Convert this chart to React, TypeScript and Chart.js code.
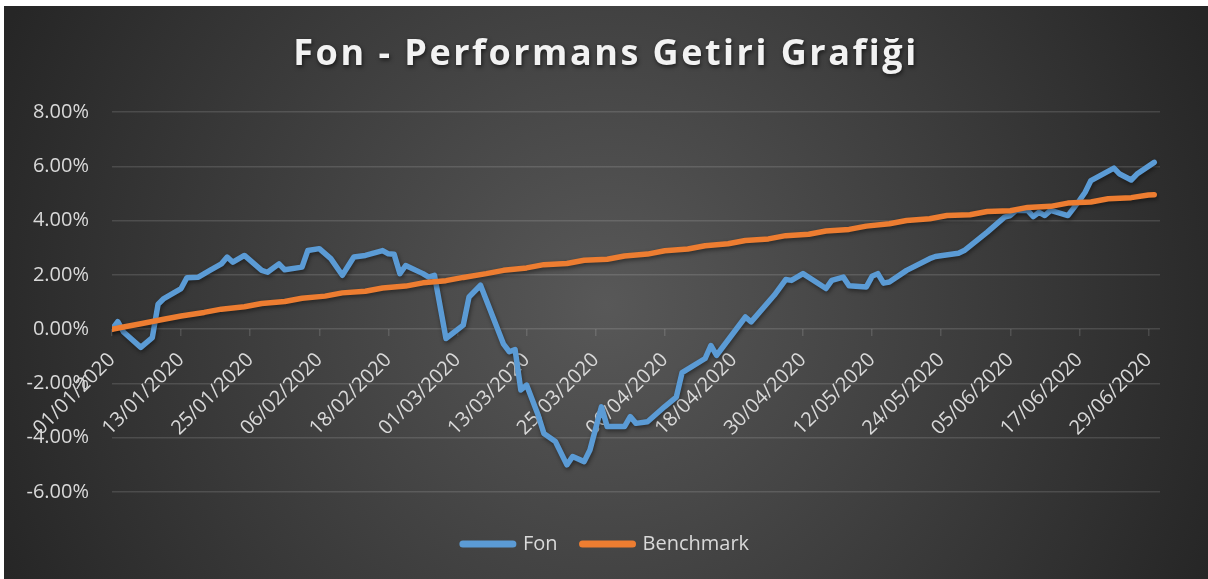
import React, { useEffect, useRef } from 'react';
import { Chart, registerables } from 'chart.js';

Chart.register(...registerables);

const chartTitle = 'Fon - Performans Getiri Grafiği';
const seriesNames = ['Fon', 'Benchmark'];
const seriesColors = ['#5B9BD5', '#ED7D31'];

// x axis: day index from 01/01/2020
const xTickDays = [0, 12, 24, 36, 48, 60, 72, 84, 96, 108, 120, 132, 144, 156, 168, 180];
const xTickLabels = [
  '01/01/2020', '13/01/2020', '25/01/2020', '06/02/2020', '18/02/2020', '01/03/2020',
  '13/03/2020', '25/03/2020', '06/04/2020', '18/04/2020', '30/04/2020', '12/05/2020',
  '24/05/2020', '05/06/2020', '17/06/2020', '29/06/2020',
];
const yMin = -6;
const yMax = 8;
const yStep = 2;

// Fon (percent)
const fonDays = [
  0, 1, 2, 5, 7, 8, 9, 12, 13, 15, 17, 19, 20, 21, 23, 26, 27, 29, 30, 33,
  34, 36, 38, 40, 42, 44, 47, 48, 49, 50, 51, 54, 55, 56, 58, 61, 62, 64, 68, 69,
  70, 71, 72, 74, 75, 77, 79, 80, 82, 83, 85, 86, 89, 90, 91, 93, 96, 98, 99, 103,
  104, 105, 110, 111, 115, 117, 118, 120, 124, 125, 127, 128, 131, 132, 133, 134, 135, 138, 142, 143,
  147, 148, 152, 155, 156, 157, 159, 160, 161, 162, 163, 166, 168, 169, 170, 174, 175, 177, 178, 181,
];
const fonValues = [
  0, 0.28, -0.1, -0.67, -0.31, 0.92, 1.13, 1.5, 1.9, 1.92, 2.17, 2.41, 2.66, 2.47, 2.72, 2.17, 2.1, 2.41, 2.19, 2.29,
  2.9, 2.97, 2.6, 1.99, 2.66, 2.72, 2.9, 2.78, 2.76, 2.05, 2.35, 2.05, 1.92, 1.99, -0.34, 0.15, 1.19, 1.62, -0.55, -0.83,
  -0.75, -2.24, -2.06, -3.16, -3.84, -4.14, -5.0, -4.69, -4.88, -4.45, -2.86, -3.59, -3.59, -3.22, -3.47, -3.41, -2.85, -2.5, -1.6, -1.08,
  -0.6, -0.96, 0.45, 0.27, 1.25, 1.83, 1.8, 2.05, 1.5, 1.8, 1.92, 1.6, 1.56, 1.95, 2.05, 1.7, 1.74, 2.17, 2.6, 2.68,
  2.8, 2.9, 3.58, 4.13, 4.19, 4.38, 4.38, 4.15, 4.31, 4.19, 4.38, 4.19, 4.74, 5.05, 5.48, 5.94, 5.72, 5.5, 5.72, 6.15,
];

// Benchmark (percent)
const benchDays = [
  0, 2, 5, 9, 12, 16, 19, 23, 26, 30, 33, 37, 40, 44, 47, 51, 54, 58, 61, 65,
  68, 72, 75, 79, 82, 86, 89, 93, 96, 100, 103, 107, 110, 114, 117, 121, 124, 128, 131, 135,
  138, 142, 145, 149, 152, 156, 159, 163, 166, 170, 173, 177, 180, 181,
];
const benchValues = [
  0, 0.08, 0.2, 0.37, 0.49, 0.62, 0.74, 0.83, 0.95, 1.02, 1.14, 1.22, 1.34, 1.4, 1.52, 1.59, 1.71, 1.79, 1.91, 2.05,
  2.17, 2.26, 2.38, 2.42, 2.54, 2.58, 2.7, 2.77, 2.89, 2.96, 3.08, 3.15, 3.27, 3.33, 3.45, 3.5, 3.62, 3.68, 3.8, 3.89,
  4.01, 4.07, 4.19, 4.22, 4.34, 4.37, 4.49, 4.53, 4.65, 4.69, 4.81, 4.85, 4.95, 4.96,
];

const textColor = '#d9d9d9';
const gridColor = 'rgba(255,255,255,0.13)';
const fontFamily = "'Open Sans', 'DejaVu Sans', sans-serif";

const lineShadowPlugin = {
  id: 'lineShadow',
  beforeDatasetsDraw(chart: any) {
    const ctx = chart.ctx;
    ctx.save();
    ctx.shadowColor = 'rgba(0,0,0,0.45)';
    ctx.shadowBlur = 4;
    ctx.shadowOffsetX = 1;
    ctx.shadowOffsetY = 2;
  },
  afterDatasetsDraw(chart: any) {
    chart.ctx.restore();
  },
};

const titleStylePlugin = {
  id: 'titleStyle',
  beforeDraw(chart: any) {
    const tb = chart.titleBlock;
    if (tb && !tb.__styled) {
      const orig = tb.draw.bind(tb);
      tb.draw = (...args: any[]) => {
        const ctx = chart.ctx;
        ctx.save();
        ctx.letterSpacing = '2.5px';
        ctx.shadowColor = 'rgba(0,0,0,0.6)';
        ctx.shadowBlur = 4;
        ctx.shadowOffsetX = 1;
        ctx.shadowOffsetY = 2;
        orig(...args);
        ctx.restore();
      };
      tb.__styled = true;
    }
  },
};

export default function App() {
  const canvasRef = useRef<HTMLCanvasElement>(null);

  useEffect(() => {
    const canvas = canvasRef.current;
    if (!canvas) return;
    const chart = new Chart(canvas, {
      type: 'line',
      data: {
        datasets: [
          {
            label: seriesNames[0],
            data: fonDays.map((d, i) => ({ x: d, y: fonValues[i] })),
            borderColor: seriesColors[0],
            backgroundColor: seriesColors[0],
            borderWidth: 5.5,
            pointRadius: 0,
            borderJoinStyle: 'round',
            borderCapStyle: 'round',
            tension: 0,
            order: 1,
          },
          {
            label: seriesNames[1],
            data: benchDays.map((d, i) => ({ x: d, y: benchValues[i] })),
            borderColor: seriesColors[1],
            backgroundColor: seriesColors[1],
            borderWidth: 5.5,
            pointRadius: 0,
            borderJoinStyle: 'round',
            borderCapStyle: 'round',
            tension: 0,
            order: 0,
          },
        ],
      },
      options: {
        responsive: false,
        devicePixelRatio: 1,
        animation: false,
        events: [],
        layout: { padding: { left: 12, right: 12, top: 0, bottom: 15 } },
        scales: {
          x: {
            type: 'linear',
            position: { y: 0 } as any,
            min: 0,
            max: 182,
            afterBuildTicks: (scale: any) => {
              scale.ticks = xTickDays.map((v) => ({ value: v }));
            },
            afterFit: (scale: any) => {
              scale.paddingRight = 48;
            },
            grid: {
              display: true,
              drawOnChartArea: false,
              drawTicks: true,
              tickLength: 7,
              color: gridColor,
              lineWidth: 1.5,
            },
            border: { display: false },
            ticks: {
              autoSkip: false,
              minRotation: 45,
              maxRotation: 45,
              padding: 12,
              color: textColor,
              font: { family: fontFamily, size: 20 },
              callback: (_v: any, index: number) => xTickLabels[index],
            },
          },
          y: {
            type: 'linear',
            min: yMin,
            max: yMax,
            afterFit: (scale: any) => {
              scale.width = 96;
            },
            grid: { color: gridColor, lineWidth: 1.5, drawTicks: false },
            border: { display: false },
            ticks: {
              stepSize: yStep,
              padding: 23,
              color: textColor,
              font: { family: fontFamily, size: 20 },
              callback: (v: any) => Number(v).toFixed(2) + '%',
            },
          },
        },
        plugins: {
          title: {
            display: true,
            text: chartTitle,
            color: '#f2f2f2',
            font: { family: fontFamily, size: 36, weight: 'bold' },
            padding: { top: 27, bottom: 36 },
          },
          legend: {
            display: true,
            position: 'bottom',
            title: {
              display: true,
              text: ' ',
              font: { family: fontFamily, size: 10 },
              padding: { top: 5, bottom: 0 },
            },
            labels: {
              color: textColor,
              font: { family: fontFamily, size: 20 },
              usePointStyle: true,
              pointStyleWidth: 50,
              padding: 25,
              sort: (a: any, b: any) => a.datasetIndex - b.datasetIndex,
              generateLabels: (ch: any) => {
                const items = (Chart.defaults.plugins.legend.labels as any).generateLabels(ch);
                return items.map((it: any) => ({
                  ...it,
                  pointStyle: 'line',
                  lineWidth: 7,
                  lineCap: 'round',
                  strokeStyle: seriesColors[it.datasetIndex],
                  fillStyle: seriesColors[it.datasetIndex],
                  fontColor: textColor,
                }));
              },
            },
          },
          tooltip: { enabled: false },
        },
      },
      plugins: [lineShadowPlugin, titleStylePlugin],
    } as any);
    return () => chart.destroy();
  }, []);

  return (
    <div
      style={{
        position: 'fixed',
        left: 4,
        top: 6,
        width: 1204,
        height: 573,
        background: 'radial-gradient(circle 660px at 50% 52%, #585858 0%, #262626 100%)',
      }}
    >
      <canvas
        ref={canvasRef}
        width={1204}
        height={573}
        style={{ display: 'block', width: 1204, height: 573 }}
      />
    </div>
  );
}
